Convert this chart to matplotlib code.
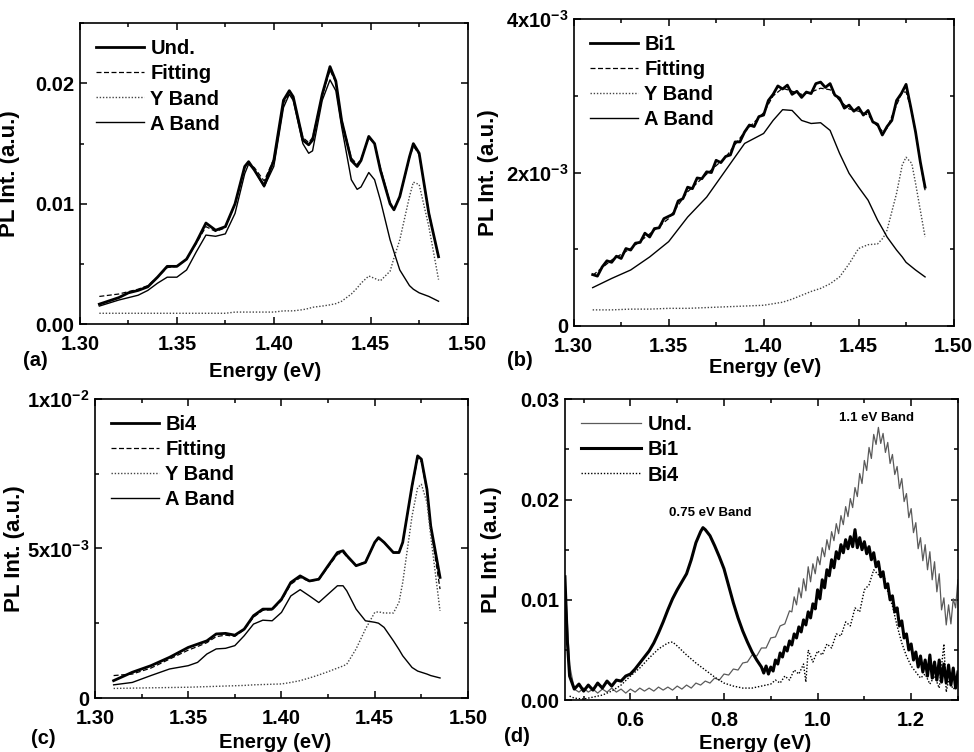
import matplotlib
matplotlib.use("Agg")
import matplotlib.pyplot as plt
from matplotlib.ticker import MultipleLocator

plt.rcParams['font.family'] = ['Liberation Sans', 'DejaVu Sans']
plt.rcParams['font.weight'] = 'bold'
plt.rcParams['mathtext.fontset'] = 'custom'
plt.rcParams['mathtext.bf'] = 'Liberation Sans:bold'
plt.rcParams['mathtext.rm'] = 'Liberation Sans:bold'
plt.rcParams['mathtext.default'] = 'bf'

# ---- panel (a): undoped ----
energy_a = [1.31, 1.32, 1.325, 1.33, 1.335, 1.34, 1.345, 1.35, 1.355, 1.36, 1.365,
            1.37, 1.375, 1.38, 1.385, 1.387, 1.39, 1.395, 1.40, 1.405, 1.408, 1.41,
            1.415, 1.418, 1.42, 1.425, 1.429, 1.432, 1.435, 1.44, 1.443, 1.445,
            1.449, 1.452, 1.455, 1.46, 1.462, 1.465, 1.47, 1.472, 1.475, 1.48, 1.485]
und_a = [0.00166, 0.0022, 0.0026, 0.0028, 0.0031, 0.0039, 0.0048, 0.0048, 0.0054,
         0.0068, 0.0084, 0.0078, 0.0081, 0.0100, 0.0131, 0.0135, 0.0128, 0.0115,
         0.0136, 0.0186, 0.0194, 0.0189, 0.0153, 0.0149, 0.0153, 0.0191, 0.0214,
         0.0202, 0.0169, 0.0136, 0.0131, 0.0136, 0.0156, 0.0150, 0.0128, 0.0100,
         0.0095, 0.0106, 0.0139, 0.0150, 0.0142, 0.0092, 0.0056]
fit_a = [0.0023, 0.0025, 0.0027, 0.0029, 0.0032, 0.0039, 0.0047, 0.0048, 0.0054,
         0.0067, 0.0081, 0.0077, 0.0080, 0.0100, 0.0130, 0.0134, 0.0130, 0.0119,
         0.0137, 0.0184, 0.0191, 0.0188, 0.0155, 0.0151, 0.0155, 0.0190, 0.0211,
         0.0201, 0.0170, 0.0138, 0.0133, 0.0137, 0.0155, 0.0150, 0.0130, 0.0101,
         0.0096, 0.0106, 0.0138, 0.0148, 0.0141, 0.0093, 0.0055]
yband_a = [0.0009, 0.0009, 0.0009, 0.0009, 0.0009, 0.0009, 0.0009, 0.0009, 0.0009,
           0.0009, 0.0009, 0.0009, 0.0009, 0.0010, 0.0010, 0.0010, 0.0010, 0.0010,
           0.0010, 0.0011, 0.0011, 0.0011, 0.0012, 0.0013, 0.0014, 0.0015, 0.0016,
           0.0017, 0.0019, 0.0025, 0.0030, 0.0034, 0.0040, 0.0038, 0.0036, 0.0044,
           0.0055, 0.0070, 0.0106, 0.0118, 0.0116, 0.0081, 0.0037]
aband_a = [0.0015, 0.0020, 0.0022, 0.0024, 0.0028, 0.0034, 0.0039, 0.0039, 0.0045,
           0.0060, 0.0074, 0.0073, 0.0075, 0.0092, 0.0125, 0.0133, 0.0128, 0.0114,
           0.0131, 0.0180, 0.0191, 0.0186, 0.0150, 0.0142, 0.0144, 0.0186, 0.0203,
           0.0194, 0.0164, 0.0120, 0.0112, 0.0114, 0.0126, 0.0120, 0.0103, 0.0070,
           0.0060, 0.0045, 0.0032, 0.0029, 0.0026, 0.0023, 0.0019]

# ---- panel (b): Bi1 ----
energy_b_meas = [1.31, 1.3125, 1.315, 1.3175, 1.32, 1.3225, 1.325, 1.3275, 1.33, 1.3325,
                 1.335, 1.3375, 1.34, 1.3425, 1.345, 1.3475, 1.35, 1.3525, 1.355, 1.3575,
                 1.36, 1.3625, 1.365, 1.3675, 1.37, 1.3725, 1.375, 1.3775, 1.38, 1.3825,
                 1.385, 1.3875, 1.39, 1.3925, 1.395, 1.3975, 1.40, 1.4025, 1.405, 1.4075,
                 1.41, 1.4125, 1.415, 1.4175, 1.42, 1.4225, 1.425, 1.4275, 1.43, 1.4325,
                 1.435, 1.4375, 1.44, 1.4425, 1.445, 1.4475, 1.45, 1.4525, 1.455, 1.4575,
                 1.46, 1.4625, 1.465, 1.4675, 1.47, 1.4725, 1.475, 1.4775, 1.48, 1.4825,
                 1.485]
bi1_b = [0.00067, 0.00065, 0.00077, 0.00085, 0.00083, 0.00091, 0.00088, 0.00101, 0.00099, 0.00108,
         0.00109, 0.00121, 0.00116, 0.00127, 0.00128, 0.00140, 0.00143, 0.00146, 0.00163, 0.00166,
         0.00181, 0.00179, 0.00193, 0.00192, 0.00201, 0.00200, 0.00216, 0.00213, 0.00221, 0.00223,
         0.00240, 0.00240, 0.00253, 0.00262, 0.00260, 0.00273, 0.00275, 0.00294, 0.00302, 0.00313,
         0.00309, 0.00314, 0.00302, 0.00306, 0.00298, 0.00305, 0.00303, 0.00316, 0.00318, 0.00311,
         0.00316, 0.00301, 0.00297, 0.00284, 0.00288, 0.00280, 0.00285, 0.00275, 0.00281, 0.00266,
         0.00263, 0.00249, 0.00260, 0.00268, 0.00294, 0.00303, 0.00315, 0.00285, 0.00253, 0.00214,
         0.00181]
energy_b = [1.31, 1.32, 1.33, 1.34, 1.35, 1.36, 1.37, 1.38, 1.39, 1.40, 1.405, 1.41,
            1.415, 1.42, 1.425, 1.43, 1.435, 1.44, 1.445, 1.45, 1.455, 1.46, 1.463,
            1.465, 1.47, 1.473, 1.475, 1.478, 1.48, 1.485]
fit_b = [0.00066, 0.00086, 0.00101, 0.0012, 0.0014, 0.00175, 0.00198, 0.0022,
         0.00253, 0.00278, 0.0030, 0.0031, 0.00306, 0.00302, 0.00305, 0.0031,
         0.00308, 0.00294, 0.00283, 0.0028, 0.00275, 0.0026, 0.00253, 0.00258,
         0.00288, 0.00305, 0.00305, 0.0028, 0.00252, 0.00177]
yband_b = [0.00021, 0.00021, 0.00022, 0.00022, 0.00023, 0.00023, 0.00024, 0.00025,
           0.00026, 0.00027, 0.00029, 0.00031, 0.00035, 0.0004, 0.00045, 0.00049,
           0.00055, 0.00064, 0.00081, 0.00101, 0.00106, 0.00107, 0.00115, 0.00125,
           0.00173, 0.0021, 0.0022, 0.00212, 0.00186, 0.00116]
aband_b = [0.0005, 0.00062, 0.00073, 0.0009, 0.0011, 0.00142, 0.00168, 0.00203,
           0.00238, 0.00251, 0.00268, 0.00282, 0.00281, 0.00268, 0.00264, 0.00265,
           0.00255, 0.00225, 0.00199, 0.00181, 0.00164, 0.00138, 0.00125, 0.00116,
           0.00099, 0.0009, 0.00083, 0.00077, 0.00073, 0.00064]

# ---- panel (c): Bi4 ----
energy_c = [1.31, 1.32, 1.33, 1.34, 1.35, 1.355, 1.36, 1.365, 1.37, 1.375, 1.38,
            1.385, 1.39, 1.395, 1.40, 1.405, 1.41, 1.415, 1.42, 1.425, 1.43, 1.433,
            1.435, 1.44, 1.445, 1.45, 1.452, 1.455, 1.46, 1.463, 1.465, 1.47, 1.473,
            1.475, 1.478, 1.48, 1.485]
bi4_c = [0.00058, 0.00086, 0.00108, 0.00136, 0.00169, 0.0018, 0.00191, 0.00214,
         0.00216, 0.0021, 0.0023, 0.00275, 0.00297, 0.00297, 0.0033, 0.00386,
         0.00408, 0.00391, 0.00397, 0.00442, 0.00486, 0.00492, 0.00476, 0.00442,
         0.00453, 0.0052, 0.00536, 0.0052, 0.00486, 0.00486, 0.0052, 0.00709,
         0.00809, 0.00798, 0.00697, 0.00575, 0.00403]
fit_c = [0.00075, 0.0008, 0.0010, 0.0013, 0.0016, 0.00172, 0.00185, 0.00205, 0.0021,
         0.00206, 0.00228, 0.0027, 0.00293, 0.00295, 0.00326, 0.0038, 0.00402,
         0.0039, 0.00395, 0.00438, 0.0048, 0.00486, 0.00472, 0.00443, 0.00455,
         0.00518, 0.00532, 0.0052, 0.00487, 0.00488, 0.0052, 0.00705, 0.0080,
         0.0079, 0.0069, 0.0057, 0.00364]
yband_c = [0.00032, 0.00033, 0.00034, 0.00035, 0.00036, 0.00037, 0.00038, 0.00039,
           0.0004, 0.00041, 0.00042, 0.00044, 0.00045, 0.00046, 0.00047, 0.00052,
           0.00058, 0.00067, 0.00077, 0.00088, 0.0010, 0.00107, 0.00113, 0.00164,
           0.0023, 0.00286, 0.00288, 0.00284, 0.00284, 0.0032, 0.00386, 0.00608,
           0.00703, 0.00714, 0.00653, 0.00542, 0.00291]
aband_c = [0.00044, 0.00052, 0.00075, 0.00097, 0.00108, 0.00119, 0.00147, 0.00164,
           0.00166, 0.00175, 0.00208, 0.00247, 0.0026, 0.00258, 0.00286, 0.00341,
           0.00362, 0.00341, 0.00319, 0.00347, 0.00375, 0.00375, 0.00358, 0.00297,
           0.00258, 0.00253, 0.0025, 0.00236, 0.00191, 0.00162, 0.00141, 0.00102,
           0.0009, 0.00086, 0.0008, 0.00075, 0.00067]

# ---- panel (d): wide range, noisy spectra ----
energy_und_d = [0.46, 0.47, 0.48, 0.49, 0.50, 0.51, 0.52, 0.53, 0.54, 0.55,
                0.56, 0.57, 0.58, 0.59, 0.60, 0.61, 0.62, 0.63, 0.64, 0.65,
                0.66, 0.67, 0.68, 0.69, 0.70, 0.71, 0.72, 0.73, 0.74, 0.75,
                0.76, 0.77, 0.78, 0.79, 0.80, 0.81, 0.82, 0.83, 0.84, 0.85,
                0.86, 0.87, 0.88, 0.89, 0.90, 0.91, 0.92, 0.93, 0.94, 0.945,
                0.95, 0.955, 0.96, 0.965, 0.97, 0.975, 0.98, 0.985, 0.99, 0.995,
                1.00, 1.005, 1.01, 1.015, 1.02, 1.025, 1.03, 1.035, 1.04, 1.045,
                1.05, 1.055, 1.06, 1.065, 1.07, 1.075, 1.08, 1.085, 1.09, 1.095,
                1.10, 1.105, 1.11, 1.115, 1.12, 1.125, 1.13, 1.135, 1.14, 1.145,
                1.15, 1.155, 1.16, 1.165, 1.17, 1.175, 1.18, 1.185, 1.19, 1.195,
                1.20, 1.205, 1.21, 1.215, 1.22, 1.225, 1.23, 1.235, 1.24, 1.245,
                1.25, 1.255, 1.26, 1.265, 1.27, 1.275, 1.28, 1.285, 1.29, 1.295,
                1.30]
und_d = [0.0123, 0.0035, 0.0011, 0.0008, 0.0012, 0.0008, 0.0011, 0.0007, 0.0011, 0.0008,
         0.0012, 0.0008, 0.0011, 0.0007, 0.0011, 0.0008, 0.0012, 0.0009, 0.0012, 0.0009,
         0.0013, 0.0010, 0.0013, 0.0010, 0.0014, 0.0011, 0.0015, 0.0012, 0.0017, 0.0015,
         0.0019, 0.0017, 0.0022, 0.0020, 0.0026, 0.0025, 0.0031, 0.0030, 0.0037, 0.0038,
         0.0045, 0.0044, 0.0052, 0.0052, 0.0062, 0.0063, 0.0074, 0.0076, 0.0089, 0.0088,
         0.0103, 0.0095, 0.0112, 0.0102, 0.0121, 0.0109, 0.0133, 0.0118, 0.0136, 0.0126,
         0.0143, 0.0135, 0.0152, 0.0143, 0.0160, 0.0150, 0.0168, 0.0159, 0.0176, 0.0166,
         0.0184, 0.0175, 0.0193, 0.0183, 0.0201, 0.0192, 0.0212, 0.0203, 0.0226, 0.0216,
         0.0239, 0.0229, 0.0252, 0.0241, 0.0265, 0.0255, 0.0272, 0.0256, 0.0266, 0.0247,
         0.0257, 0.0236, 0.0245, 0.0225, 0.0233, 0.0211, 0.0221, 0.0198, 0.0206, 0.0182,
         0.0191, 0.0167, 0.0177, 0.0151, 0.0162, 0.0139, 0.0155, 0.0130, 0.0148, 0.0120,
         0.0138, 0.0108, 0.0126, 0.0090, 0.0102, 0.0075, 0.0095, 0.0076, 0.0101, 0.0092,
         0.0120]
energy_bi1_d = [0.46, 0.465, 0.47, 0.48, 0.49, 0.50, 0.51, 0.52, 0.53, 0.54,
                0.55, 0.56, 0.57, 0.58, 0.59, 0.60, 0.61, 0.62, 0.63, 0.64,
                0.65, 0.66, 0.67, 0.68, 0.69, 0.70, 0.71, 0.72, 0.73, 0.74,
                0.75, 0.755, 0.76, 0.77, 0.78, 0.79, 0.80, 0.81, 0.82, 0.83,
                0.84, 0.85, 0.86, 0.87, 0.88, 0.885, 0.89, 0.895, 0.90, 0.905,
                0.91, 0.915, 0.92, 0.925, 0.93, 0.935, 0.94, 0.945, 0.95, 0.955,
                0.96, 0.965, 0.97, 0.975, 0.98, 0.985, 0.99, 0.995, 1.00, 1.005,
                1.01, 1.015, 1.02, 1.025, 1.03, 1.035, 1.04, 1.045, 1.05, 1.055,
                1.06, 1.065, 1.07, 1.075, 1.08, 1.085, 1.09, 1.095, 1.10, 1.105,
                1.11, 1.115, 1.12, 1.125, 1.13, 1.135, 1.14, 1.145, 1.15, 1.155,
                1.16, 1.165, 1.17, 1.175, 1.18, 1.185, 1.19, 1.195, 1.20, 1.205,
                1.21, 1.215, 1.22, 1.225, 1.23, 1.235, 1.24, 1.245, 1.25, 1.255,
                1.26, 1.265, 1.27, 1.275, 1.28, 1.285, 1.29, 1.295, 1.30]
bi1_d = [0.0123, 0.0060, 0.0024, 0.0011, 0.0016, 0.0009, 0.0015, 0.0010, 0.0017, 0.0012,
         0.0019, 0.0014, 0.0020, 0.0019, 0.0024, 0.0026, 0.0031, 0.0037, 0.0043, 0.0049,
         0.0057, 0.0067, 0.0078, 0.0090, 0.0101, 0.0110, 0.0118, 0.0126, 0.0140, 0.0157,
         0.0168, 0.0172, 0.0170, 0.0164, 0.0154, 0.0143, 0.0131, 0.0114, 0.0097, 0.0082,
         0.0069, 0.0058, 0.0048, 0.0040, 0.0033, 0.0027, 0.0034, 0.0026, 0.0033, 0.0029,
         0.0040, 0.0036, 0.0047, 0.0043, 0.0053, 0.0049, 0.0059, 0.0055, 0.0066, 0.0062,
         0.0073, 0.0068, 0.0080, 0.0075, 0.0088, 0.0082, 0.0096, 0.0091, 0.0110, 0.0101,
         0.0120, 0.0112, 0.0130, 0.0124, 0.0140, 0.0132, 0.0148, 0.0141, 0.0155, 0.0147,
         0.0160, 0.0151, 0.0163, 0.0153, 0.0170, 0.0152, 0.0162, 0.0150, 0.0158, 0.0146,
         0.0153, 0.0140, 0.0147, 0.0133, 0.0138, 0.0123, 0.0128, 0.0112, 0.0116, 0.0100,
         0.0104, 0.0088, 0.0092, 0.0074, 0.0079, 0.0062, 0.0066, 0.0050, 0.0056, 0.0040,
         0.0048, 0.0033, 0.0044, 0.0028, 0.0040, 0.0024, 0.0045, 0.0022, 0.0038, 0.0020,
         0.0040, 0.0018, 0.0036, 0.0017, 0.0035, 0.0015, 0.0032, 0.0012, 0.0028]
energy_bi4_d = [0.47, 0.48, 0.50, 0.52, 0.54, 0.56, 0.58, 0.60, 0.62, 0.64,
                0.66, 0.68, 0.69, 0.70, 0.72, 0.74, 0.76, 0.78, 0.80, 0.82,
                0.84, 0.86, 0.88, 0.90, 0.91, 0.92, 0.93, 0.94, 0.95, 0.96,
                0.97, 0.975, 0.98, 0.99, 1.00, 1.01, 1.02, 1.03, 1.04, 1.05,
                1.06, 1.07, 1.08, 1.09, 1.10, 1.11, 1.12, 1.13, 1.14, 1.15,
                1.16, 1.17, 1.18, 1.19, 1.20, 1.21, 1.22, 1.23, 1.24, 1.25,
                1.26, 1.27, 1.275, 1.28, 1.29, 1.30]
bi4_d = [0.0004, 0.0002, 0.0001, 0.0003, 0.0005, 0.0009, 0.0015, 0.0024, 0.0032, 0.0042,
         0.0051, 0.0057, 0.0058, 0.0054, 0.0045, 0.0037, 0.0030, 0.0023, 0.0017, 0.0014,
         0.0012, 0.0012, 0.0014, 0.0016, 0.0020, 0.0017, 0.0024, 0.0020, 0.0030, 0.0026,
         0.0036, 0.0018, 0.0050, 0.0038, 0.0049, 0.0045, 0.0056, 0.0052, 0.0066, 0.0064,
         0.0078, 0.0074, 0.0092, 0.0088, 0.0110, 0.0115, 0.0130, 0.0125, 0.0128, 0.0108,
         0.0094, 0.0074, 0.0057, 0.0044, 0.0034, 0.0028, 0.0022, 0.0026, 0.0016, 0.0024,
         0.0012, 0.0056, 0.0008, 0.0020, 0.0011, 0.0015]

FS_TICK = 14.5
FS_LABEL = 14.5
FS_YLABEL = 16


def style_axes(ax):
    ax.tick_params(which='both', direction='in', top=True, right=True,
                   labelsize=FS_TICK, width=1.1)
    ax.tick_params(which='major', length=5)
    ax.tick_params(which='minor', length=3)
    ax.tick_params(axis='x', which='major', pad=8)
    ax.tick_params(axis='y', which='major', pad=4)
    for sp in ax.spines.values():
        sp.set_linewidth(1.2)
    for lab in ax.get_xticklabels() + ax.get_yticklabels():
        lab.set_fontweight('bold')


def fit_panel(ax, energy, data, fit, yband, aband, name, energy_data=None):
    if energy_data is None:
        energy_data = energy
    ax.plot(energy_data, data, color='black', lw=2.0, label=name)
    ax.plot(energy, fit, color='black', lw=0.9, dashes=(4, 2), label='Fitting')
    ax.plot(energy, yband, color='#444444', lw=1.0, dashes=(1, 1.3), label='Y Band')
    ax.plot(energy, aband, color='black', lw=1.0, label='A Band')
    ax.set_xlim(1.30, 1.50)
    ax.xaxis.set_minor_locator(MultipleLocator(0.025))
    ax.set_xticks([1.30, 1.35, 1.40, 1.45, 1.50], ['1.30', '1.35', '1.40', '1.45', '1.50'])
    ax.legend(loc='upper left', frameon=False, handlelength=2.4, handletextpad=0.3,
              labelspacing=0.3, borderaxespad=0.4,
              prop={'size': FS_LABEL, 'weight': 'bold'})


def main(output):
    fig = plt.figure(figsize=(9.74, 7.52), dpi=100)
    ax_a = fig.add_axes([0.0821, 0.569, 0.398, 0.400])
    ax_b = fig.add_axes([0.589, 0.5665, 0.390, 0.408])
    ax_c = fig.add_axes([0.0975, 0.0718, 0.383, 0.398])
    ax_d = fig.add_axes([0.580, 0.069, 0.4035, 0.400])

    fit_panel(ax_a, energy_a, und_a, fit_a, yband_a, aband_a, 'Und.')
    ax_a.set_ylim(0, 0.025)
    ax_a.set_yticks([0.0, 0.01, 0.02], ['0.00', '0.01', '0.02'])
    ax_a.yaxis.set_minor_locator(MultipleLocator(0.005))

    fit_panel(ax_b, energy_b, bi1_b, fit_b, yband_b, aband_b, 'Bi1', energy_b_meas)
    ax_b.set_ylim(0, 0.004)
    ax_b.set_yticks([0.0, 0.002, 0.004], ['0', r'2x10$^{-3}$', r'4x10$^{-3}$'])
    ax_b.yaxis.set_minor_locator(MultipleLocator(0.001))

    fit_panel(ax_c, energy_c, bi4_c, fit_c, yband_c, aband_c, 'Bi4')
    ax_c.set_ylim(0, 0.01)
    ax_c.set_yticks([0.0, 0.005, 0.01], ['0', r'5x10$^{-3}$', r'1x10$^{-2}$'])
    ax_c.yaxis.set_minor_locator(MultipleLocator(0.0025))

    ax_d.plot(energy_und_d, und_d, color='#5a5a5a', lw=0.9, label='Und.')
    ax_d.plot(energy_bi1_d, bi1_d, color='black', lw=2.2, label='Bi1')
    ax_d.plot(energy_bi4_d, bi4_d, color='black', lw=1.0, dashes=(1, 1.3), label='Bi4')
    ax_d.set_xlim(0.46, 1.30)
    ax_d.set_ylim(0, 0.03)
    ax_d.set_xticks([0.6, 0.8, 1.0, 1.2], ['0.6', '0.8', '1.0', '1.2'])
    ax_d.xaxis.set_minor_locator(MultipleLocator(0.1))
    ax_d.set_yticks([0.0, 0.01, 0.02, 0.03], ['0.00', '0.01', '0.02', '0.03'])
    ax_d.yaxis.set_minor_locator(MultipleLocator(0.005))
    ax_d.legend(loc='upper left', frameon=False, handlelength=3.0, handletextpad=0.3,
                labelspacing=0.3, borderaxespad=0.4,
                prop={'size': FS_LABEL, 'weight': 'bold'})
    ax_d.text(0.77, 0.0187, '0.75 eV Band', ha='center', va='center',
              fontsize=9.5, fontweight='bold')
    ax_d.text(1.126, 0.0281, '1.1 eV Band', ha='center', va='center',
              fontsize=9.5, fontweight='bold')

    label_pos = {ax_a: (-0.155, -0.126, 0.477), ax_b: (-0.197, -0.104, 0.503),
                 ax_c: (-0.188, -0.117, 0.483), ax_d: (-0.16, -0.113, 0.483)}
    for ax, (ylx, xly, xlx) in label_pos.items():
        style_axes(ax)
        ax.set_ylabel('PL Int. (a.u.)', fontsize=FS_YLABEL, fontweight='bold')
        ax.set_xlabel('Energy (eV)', fontsize=FS_LABEL, fontweight='bold')
        ax.yaxis.set_label_coords(ylx, 0.5)
        ax.xaxis.set_label_coords(xlx, xly)

    for lab, x, y in [('(a)', 35, 360), ('(b)', 520, 360), ('(c)', 43, 738), ('(d)', 517, 736)]:
        fig.text(x / 974, 1 - y / 752, lab, ha='center', va='center',
                 fontsize=FS_LABEL, fontweight='bold')

    fig.savefig(output, dpi=100)


if __name__ == "__main__":
    main("out.png")
